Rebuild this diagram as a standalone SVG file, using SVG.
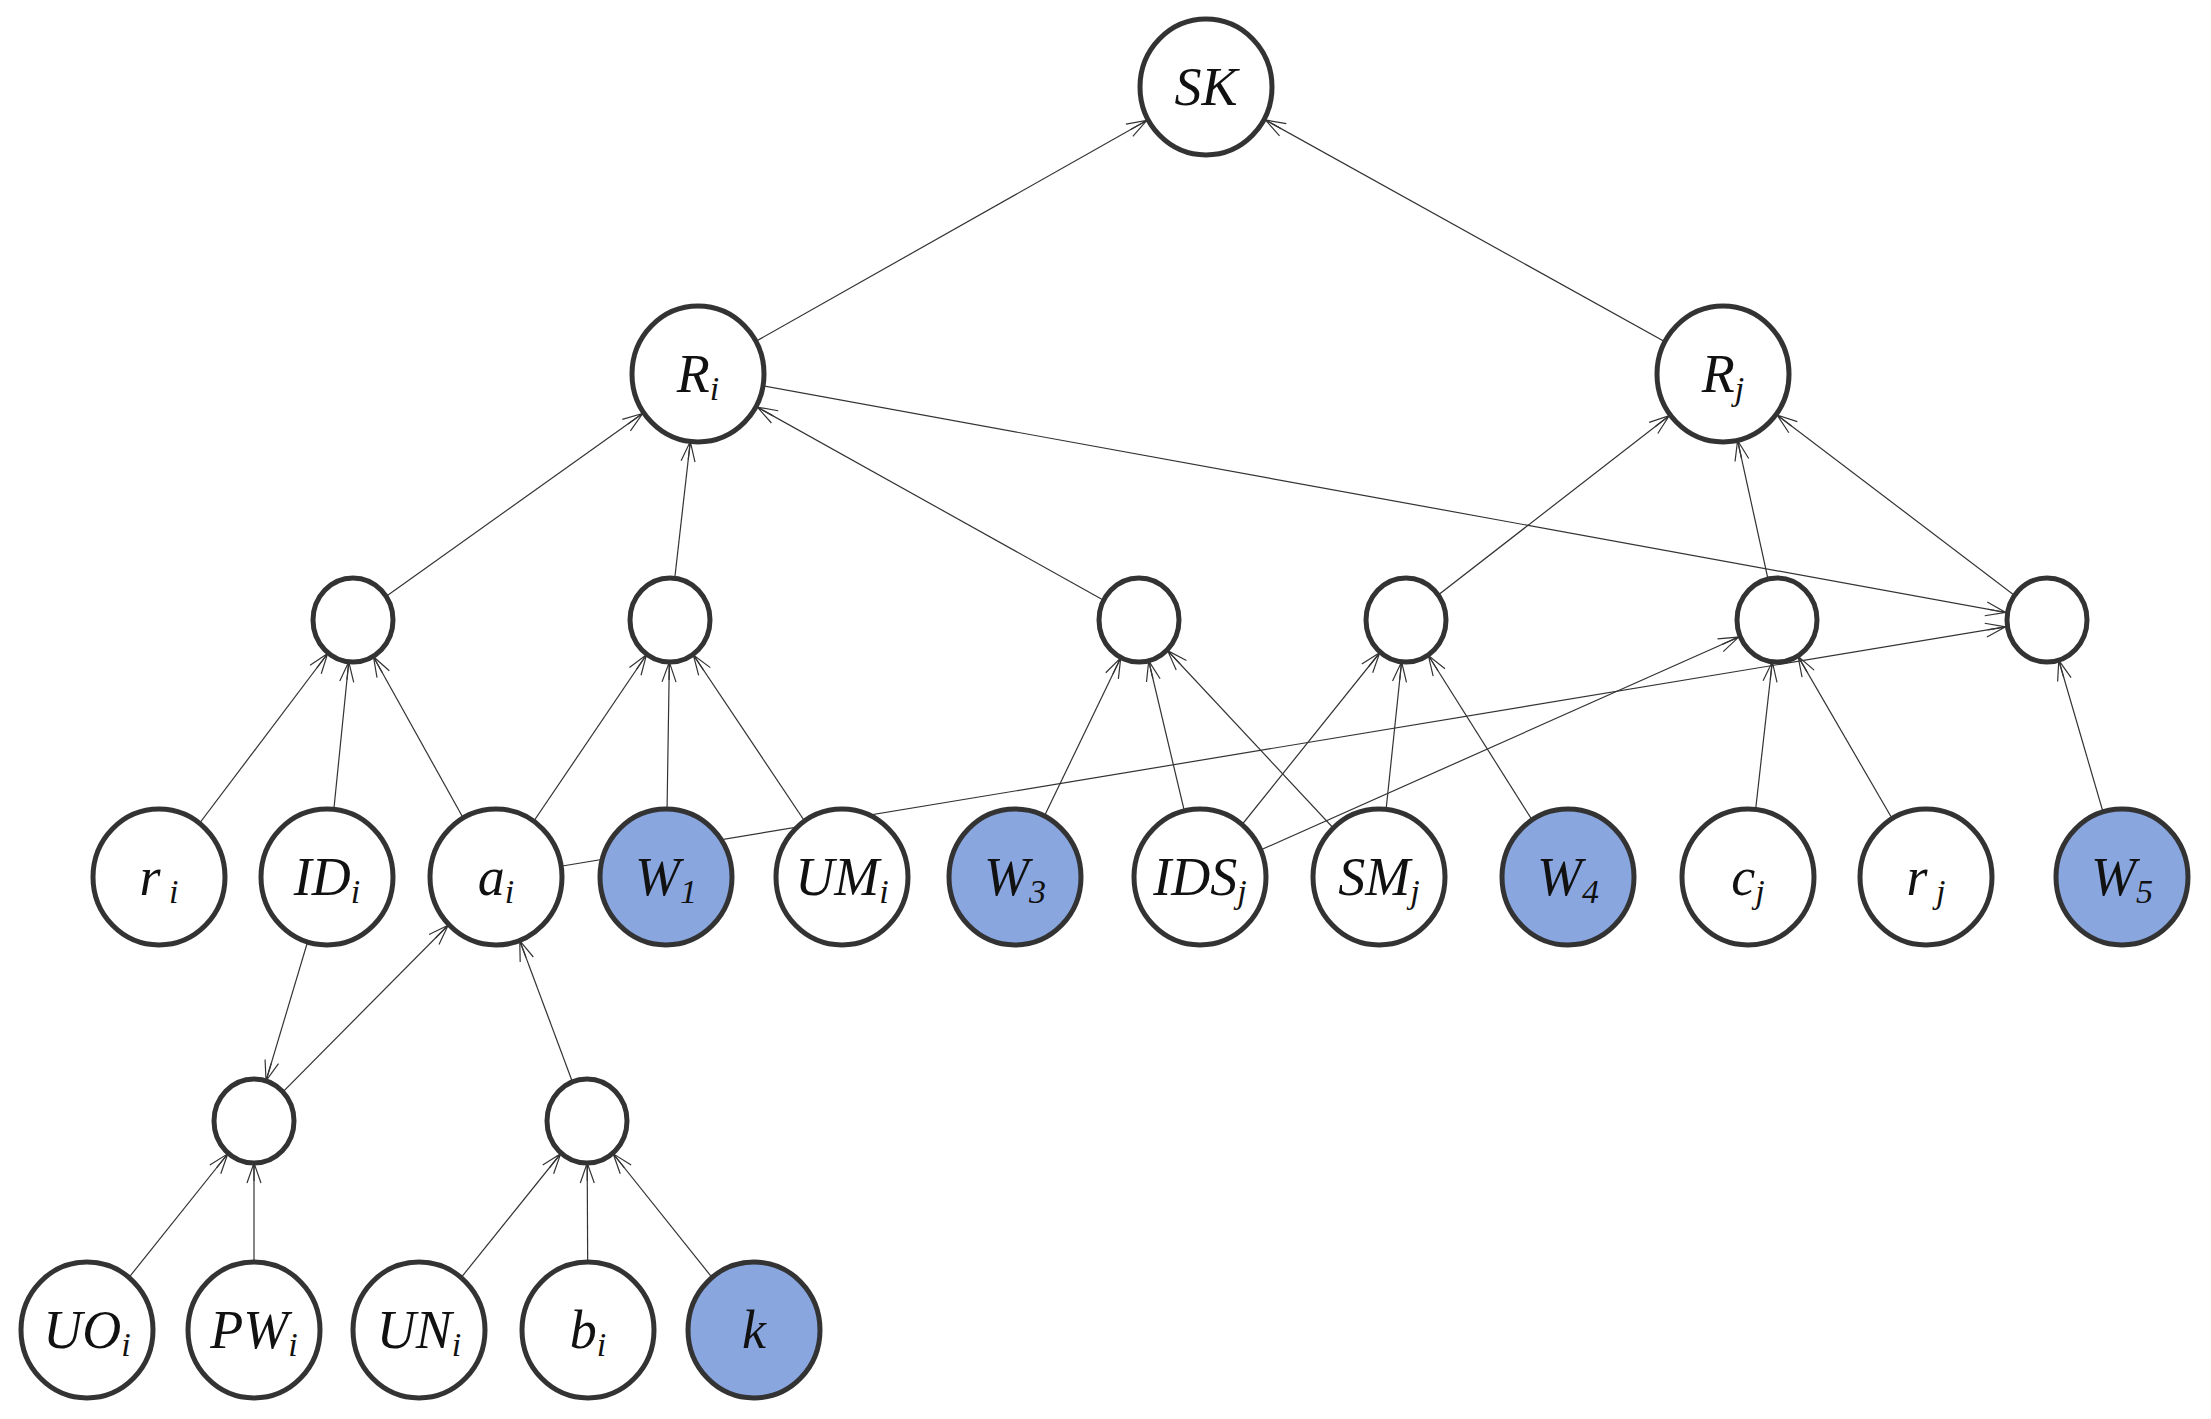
<svg xmlns="http://www.w3.org/2000/svg" width="2211" height="1419" viewBox="0 0 2211 1419">
<style>
.e{stroke:#333;stroke-width:1.2;fill:none}
.eb{marker-end:url(#mB)}
.es{marker-end:url(#mS)}
.n{fill:#fff;stroke:#333;stroke-width:5}
.f{fill:#8aa6df}
text{font-family:"Liberation Serif",serif;font-style:italic;font-size:54px;fill:#111;text-anchor:middle}
.s{font-size:34px}
</style>
<defs>
<marker id="mB" markerUnits="userSpaceOnUse" refX="68" refY="0" markerWidth="20" markerHeight="20" orient="auto" overflow="visible"><path d="M-20,-7 L0,0 L-20,7 M0,0 L-18,0" fill="none" stroke="#333" stroke-width="1.2"/></marker>
<marker id="mS" markerUnits="userSpaceOnUse" refX="42" refY="0" markerWidth="20" markerHeight="20" orient="auto" overflow="visible"><path d="M-20,-7 L0,0 L-20,7 M0,0 L-18,0" fill="none" stroke="#333" stroke-width="1.2"/></marker>
</defs>
<g id="connectors">
<line class="e eb" x1="698" y1="374" x2="1206" y2="87"/>
<line class="e eb" x1="1723" y1="374" x2="1206" y2="87"/>
<line class="e eb" x1="353" y1="620" x2="698" y2="374"/>
<line class="e eb" x1="670" y1="620" x2="698" y2="374"/>
<line class="e eb" x1="1139" y1="620" x2="698" y2="374"/>
<line class="e es" x1="698" y1="374" x2="2047" y2="620"/>
<line class="e eb" x1="1406" y1="620" x2="1723" y2="374"/>
<line class="e eb" x1="1777" y1="620" x2="1723" y2="374"/>
<line class="e eb" x1="2047" y1="620" x2="1723" y2="374"/>
<line class="e es" x1="159" y1="877" x2="353" y2="620"/>
<line class="e es" x1="327" y1="877" x2="353" y2="620"/>
<line class="e es" x1="496" y1="877" x2="353" y2="620"/>
<line class="e es" x1="496" y1="877" x2="670" y2="620"/>
<line class="e es" x1="666" y1="877" x2="670" y2="620"/>
<line class="e es" x1="842" y1="877" x2="670" y2="620"/>
<line class="e es" x1="1015" y1="877" x2="1139" y2="620"/>
<line class="e es" x1="1200" y1="877" x2="1139" y2="620"/>
<line class="e es" x1="1379" y1="877" x2="1139" y2="620"/>
<line class="e es" x1="1200" y1="877" x2="1406" y2="620"/>
<line class="e es" x1="1379" y1="877" x2="1406" y2="620"/>
<line class="e es" x1="1568" y1="877" x2="1406" y2="620"/>
<line class="e es" x1="1748" y1="877" x2="1777" y2="620"/>
<line class="e es" x1="1926" y1="877" x2="1777" y2="620"/>
<line class="e es" x1="1200" y1="877" x2="1777" y2="620"/>
<line class="e es" x1="496" y1="877" x2="2047" y2="620"/>
<line class="e es" x1="2122" y1="877" x2="2047" y2="620"/>
<line class="e es" x1="327" y1="877" x2="254" y2="1121"/>
<line class="e eb" x1="254" y1="1121" x2="496" y2="877"/>
<line class="e es" x1="87" y1="1330" x2="254" y2="1121"/>
<line class="e es" x1="254" y1="1330" x2="254" y2="1121"/>
<line class="e eb" x1="587" y1="1121" x2="496" y2="877"/>
<line class="e es" x1="419" y1="1330" x2="587" y2="1121"/>
<line class="e es" x1="588" y1="1330" x2="587" y2="1121"/>
<line class="e es" x1="754" y1="1330" x2="587" y2="1121"/>
</g>
<g id="SK"><ellipse class="n" cx="1206" cy="87" rx="66" ry="68"/><text x="1206" y="105">SK</text></g>
<g id="Ri"><ellipse class="n" cx="698" cy="374" rx="66" ry="68"/><text x="698" y="392">R<tspan class="s" dy="8">i</tspan></text></g>
<g id="Rj"><ellipse class="n" cx="1723" cy="374" rx="66" ry="68"/><text x="1723" y="392">R<tspan class="s" dy="8">j</tspan></text></g>
<g id="c1"><ellipse class="n" cx="353" cy="620" rx="40" ry="42"/></g>
<g id="c2"><ellipse class="n" cx="670" cy="620" rx="40" ry="42"/></g>
<g id="c3"><ellipse class="n" cx="1139" cy="620" rx="40" ry="42"/></g>
<g id="c4"><ellipse class="n" cx="1406" cy="620" rx="40" ry="42"/></g>
<g id="c5"><ellipse class="n" cx="1777" cy="620" rx="40" ry="42"/></g>
<g id="c6"><ellipse class="n" cx="2047" cy="620" rx="40" ry="42"/></g>
<g id="ri"><ellipse class="n" cx="159" cy="877" rx="66" ry="68"/><text x="159" y="895">r<tspan class="s" dy="8"> i</tspan></text></g>
<g id="IDi"><ellipse class="n" cx="327" cy="877" rx="66" ry="68"/><text x="327" y="895">ID<tspan class="s" dy="8">i</tspan></text></g>
<g id="ai"><ellipse class="n" cx="496" cy="877" rx="66" ry="68"/><text x="496" y="895">a<tspan class="s" dy="8">i</tspan></text></g>
<g id="W1"><ellipse class="n f" cx="666" cy="877" rx="66" ry="68"/><text x="666" y="895">W<tspan class="s" dy="8">1</tspan></text></g>
<g id="UMi"><ellipse class="n" cx="842" cy="877" rx="66" ry="68"/><text x="842" y="895">UM<tspan class="s" dy="8">i</tspan></text></g>
<g id="W3"><ellipse class="n f" cx="1015" cy="877" rx="66" ry="68"/><text x="1015" y="895">W<tspan class="s" dy="8">3</tspan></text></g>
<g id="IDSj"><ellipse class="n" cx="1200" cy="877" rx="66" ry="68"/><text x="1200" y="895">IDS<tspan class="s" dy="8">j</tspan></text></g>
<g id="SMj"><ellipse class="n" cx="1379" cy="877" rx="66" ry="68"/><text x="1379" y="895">SM<tspan class="s" dy="8">j</tspan></text></g>
<g id="W4"><ellipse class="n f" cx="1568" cy="877" rx="66" ry="68"/><text x="1568" y="895">W<tspan class="s" dy="8">4</tspan></text></g>
<g id="cj"><ellipse class="n" cx="1748" cy="877" rx="66" ry="68"/><text x="1748" y="895">c<tspan class="s" dy="8">j</tspan></text></g>
<g id="rj"><ellipse class="n" cx="1926" cy="877" rx="66" ry="68"/><text x="1926" y="895">r<tspan class="s" dy="8"> j</tspan></text></g>
<g id="W5"><ellipse class="n f" cx="2122" cy="877" rx="66" ry="68"/><text x="2122" y="895">W<tspan class="s" dy="8">5</tspan></text></g>
<g id="d1"><ellipse class="n" cx="254" cy="1121" rx="40" ry="42"/></g>
<g id="d2"><ellipse class="n" cx="587" cy="1121" rx="40" ry="42"/></g>
<g id="UOi"><ellipse class="n" cx="87" cy="1330" rx="66" ry="68"/><text x="87" y="1348">UO<tspan class="s" dy="8">i</tspan></text></g>
<g id="PWi"><ellipse class="n" cx="254" cy="1330" rx="66" ry="68"/><text x="254" y="1348">PW<tspan class="s" dy="8">i</tspan></text></g>
<g id="UNi"><ellipse class="n" cx="419" cy="1330" rx="66" ry="68"/><text x="419" y="1348">UN<tspan class="s" dy="8">i</tspan></text></g>
<g id="bi"><ellipse class="n" cx="588" cy="1330" rx="66" ry="68"/><text x="588" y="1348">b<tspan class="s" dy="8">i</tspan></text></g>
<g id="k"><ellipse class="n f" cx="754" cy="1330" rx="66" ry="68"/><text x="754" y="1348">k</text></g>
</svg>
